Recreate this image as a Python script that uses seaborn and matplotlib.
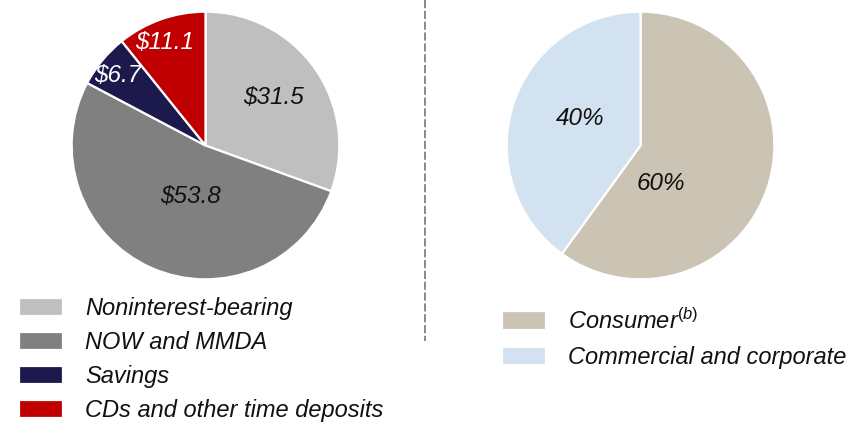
import numpy as np
import matplotlib
matplotlib.use("Agg")
import matplotlib.pyplot as plt
from matplotlib.lines import Line2D
import seaborn as sns

# Deposit mix ($bn)
deposit_labels = ["Noninterest-bearing", "NOW and MMDA", "Savings", "CDs and other time deposits"]
deposit_values = [31.5, 53.8, 6.7, 11.1]
deposit_colors = ["#BFBFBF", "#808080", "#1C1A4D", "#C00000"]
deposit_text_colors = ["#111111", "#111111", "white", "white"]

# Client mix (%)
client_labels = ["Consumer$^{\\mathit{(b)}}$", "Commercial and corporate"]
client_values = [60, 40]
client_colors = ["#CBC3B4", "#D3E2F0"]

sns.set_theme(style="white")
plt.rcParams["font.family"] = ["Liberation Sans", "DejaVu Sans"]
plt.rcParams["mathtext.fontset"] = "custom"
plt.rcParams["mathtext.rm"] = "Liberation Sans"
plt.rcParams["mathtext.it"] = "Liberation Sans:italic"

W, H = 852, 422
fig = plt.figure(figsize=(W / 100, H / 100), dpi=100)


def px_axes(x0, y0, w, h):
    return fig.add_axes([x0 / W, 1 - (y0 + h) / H, w / W, h / H])


def draw_pie(ax, values, colors, texts, text_colors, label_r, label_shift):
    wedges, _ = ax.pie(values, colors=colors, startangle=90, counterclock=False,
                       radius=1.0, wedgeprops=dict(edgecolor="white", linewidth=1.6))
    for w, t, c, r, d in zip(wedges, texts, text_colors, label_r, label_shift):
        ang = np.deg2rad((w.theta1 + w.theta2) / 2 + d)
        ax.text(r * np.cos(ang), r * np.sin(ang), t, ha="center", va="center",
                fontsize=17.5, fontstyle="italic", color=c)
    ax.set_xlim(-1.005, 1.005)
    ax.set_ylim(-1.005, 1.005)
    ax.set_aspect("equal")
    ax.axis("off")
    return wedges


# Left pie: deposits
ax1 = px_axes(71, 11, 269, 269)
w1 = draw_pie(ax1, deposit_values, deposit_colors,
              [f"${v:.1f}" for v in deposit_values], deposit_text_colors,
              label_r=[0.62, 0.40, 0.84, 0.83], label_shift=[0, 8, 1, 2])

# Right pie: clients
ax2 = px_axes(506, 11, 269, 269)
w2 = draw_pie(ax2, client_values, client_colors,
              [f"{v}%" for v in client_values], ["#111111", "#111111"],
              label_r=[0.32, 0.49], label_shift=[-44, -6])

# Legends
leg_kw = dict(frameon=False, fontsize=17, handlelength=1.85, handleheight=0.8,
              handletextpad=0.95, borderaxespad=0, borderpad=0)
leg1 = fig.legend(w1, deposit_labels, loc="upper left",
                  bbox_to_anchor=(19 / W, 1 - 297 / H), labelspacing=0.47, **leg_kw)
leg2 = fig.legend(w2, client_labels, loc="upper left",
                  bbox_to_anchor=(502 / W, 1 - 308 / H), labelspacing=0.52, **leg_kw)
for leg in (leg1, leg2):
    for txt in leg.get_texts():
        txt.set_fontstyle("italic")
        txt.set_color("#111111")

# Dashed divider between the two panels
fig.add_artist(Line2D([424.7 / W, 424.7 / W], [1.0, 1 - 341 / H], transform=fig.transFigure,
                      color="#808080", linewidth=1.3, linestyle=(0, (4.5, 1.5))))

fig.savefig("out.png", dpi=100)
